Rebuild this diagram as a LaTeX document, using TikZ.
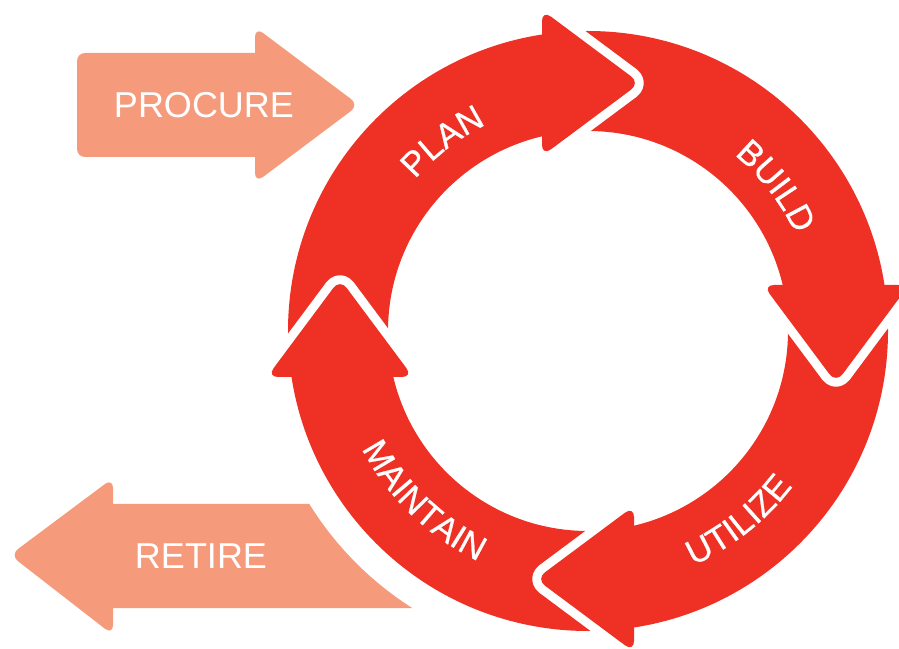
\documentclass[tikz,border=0pt]{standalone}
\usepackage{fontspec}
\setmainfont{Liberation Sans}
\newfontfamily\ringfont[LetterSpace=18,FakeBold=0.6]{Liberation Sans}
\usetikzlibrary{decorations.text}
\definecolor{ringred}{RGB}{238,49,36}
\definecolor{salmon}{RGB}{245,155,124}

\begin{document}
\begin{tikzpicture}[x=1pt,y=1pt,
  headfill/.style={fill=ringred, rounded corners=11pt},
  headgap/.style={draw=white, line width=18pt, rounded corners=11pt, line join=round},
  sidefill/.style={fill=salmon},
  sidetext/.style={text=white, inner sep=0pt, font=\fontsize{36}{40}\selectfont},
  ringtext/.style={decorate, decoration={text along path, text align=center, text color=white,
    text={|\ringfont\fontsize{34.5}{40}\selectfont|#1}}}]
\useasboundingbox (0,0) rectangle (899,648);
\coordinate (ctr) at (588,317);

% side arrows
\fill[sidefill, rounded corners=8pt] (77,491) rectangle (275,595);
\fill[sidefill, rounded corners=10pt] (255,465) -- (359,543) -- (255,621) -- cycle;
\fill[sidefill] (95,40) -- (95,144) -- (309.3,144) arc[start angle=211.8, end angle=237.6, radius=328] -- cycle;
\fill[sidefill, rounded corners=10pt] (113,13) -- (10,93) -- (113,170) -- cycle;
\node[sidetext] (procure) at (204,543) {PROCURE};
\node[sidetext] (retire) at (201,92) {RETIRE};

% ring
\fill[ringred, even odd rule] (ctr) circle[radius=300] (ctr) circle[radius=200];
\foreach \rot in {0,-90,-180,90}{
  \begin{scope}[shift={(ctr)}, rotate=\rot]
    \draw[headgap] (-46,321) -- (52,248) -- (-46,175);
    \fill[headfill] (-46,248) -- (-46,321) -- (52,248) -- (-46,175) -- cycle;
  \end{scope}
}

% labels
\path[ringtext=PLAN] (ctr) ++(157.5:230) arc[start angle=157.5, end angle=97.5, radius=230];
\path[ringtext=BUILD] (ctr) ++(67.6:229) arc[start angle=67.6, end angle=7.6, radius=229];
\path[ringtext=UTILIZE] (ctr) ++(-81.5:257) arc[start angle=-81.5, end angle=-21.5, radius=257];
\path[ringtext=MAINTAIN] (ctr) ++(-164:255) arc[start angle=-164, end angle=-104, radius=255];

\end{tikzpicture}
\end{document}
